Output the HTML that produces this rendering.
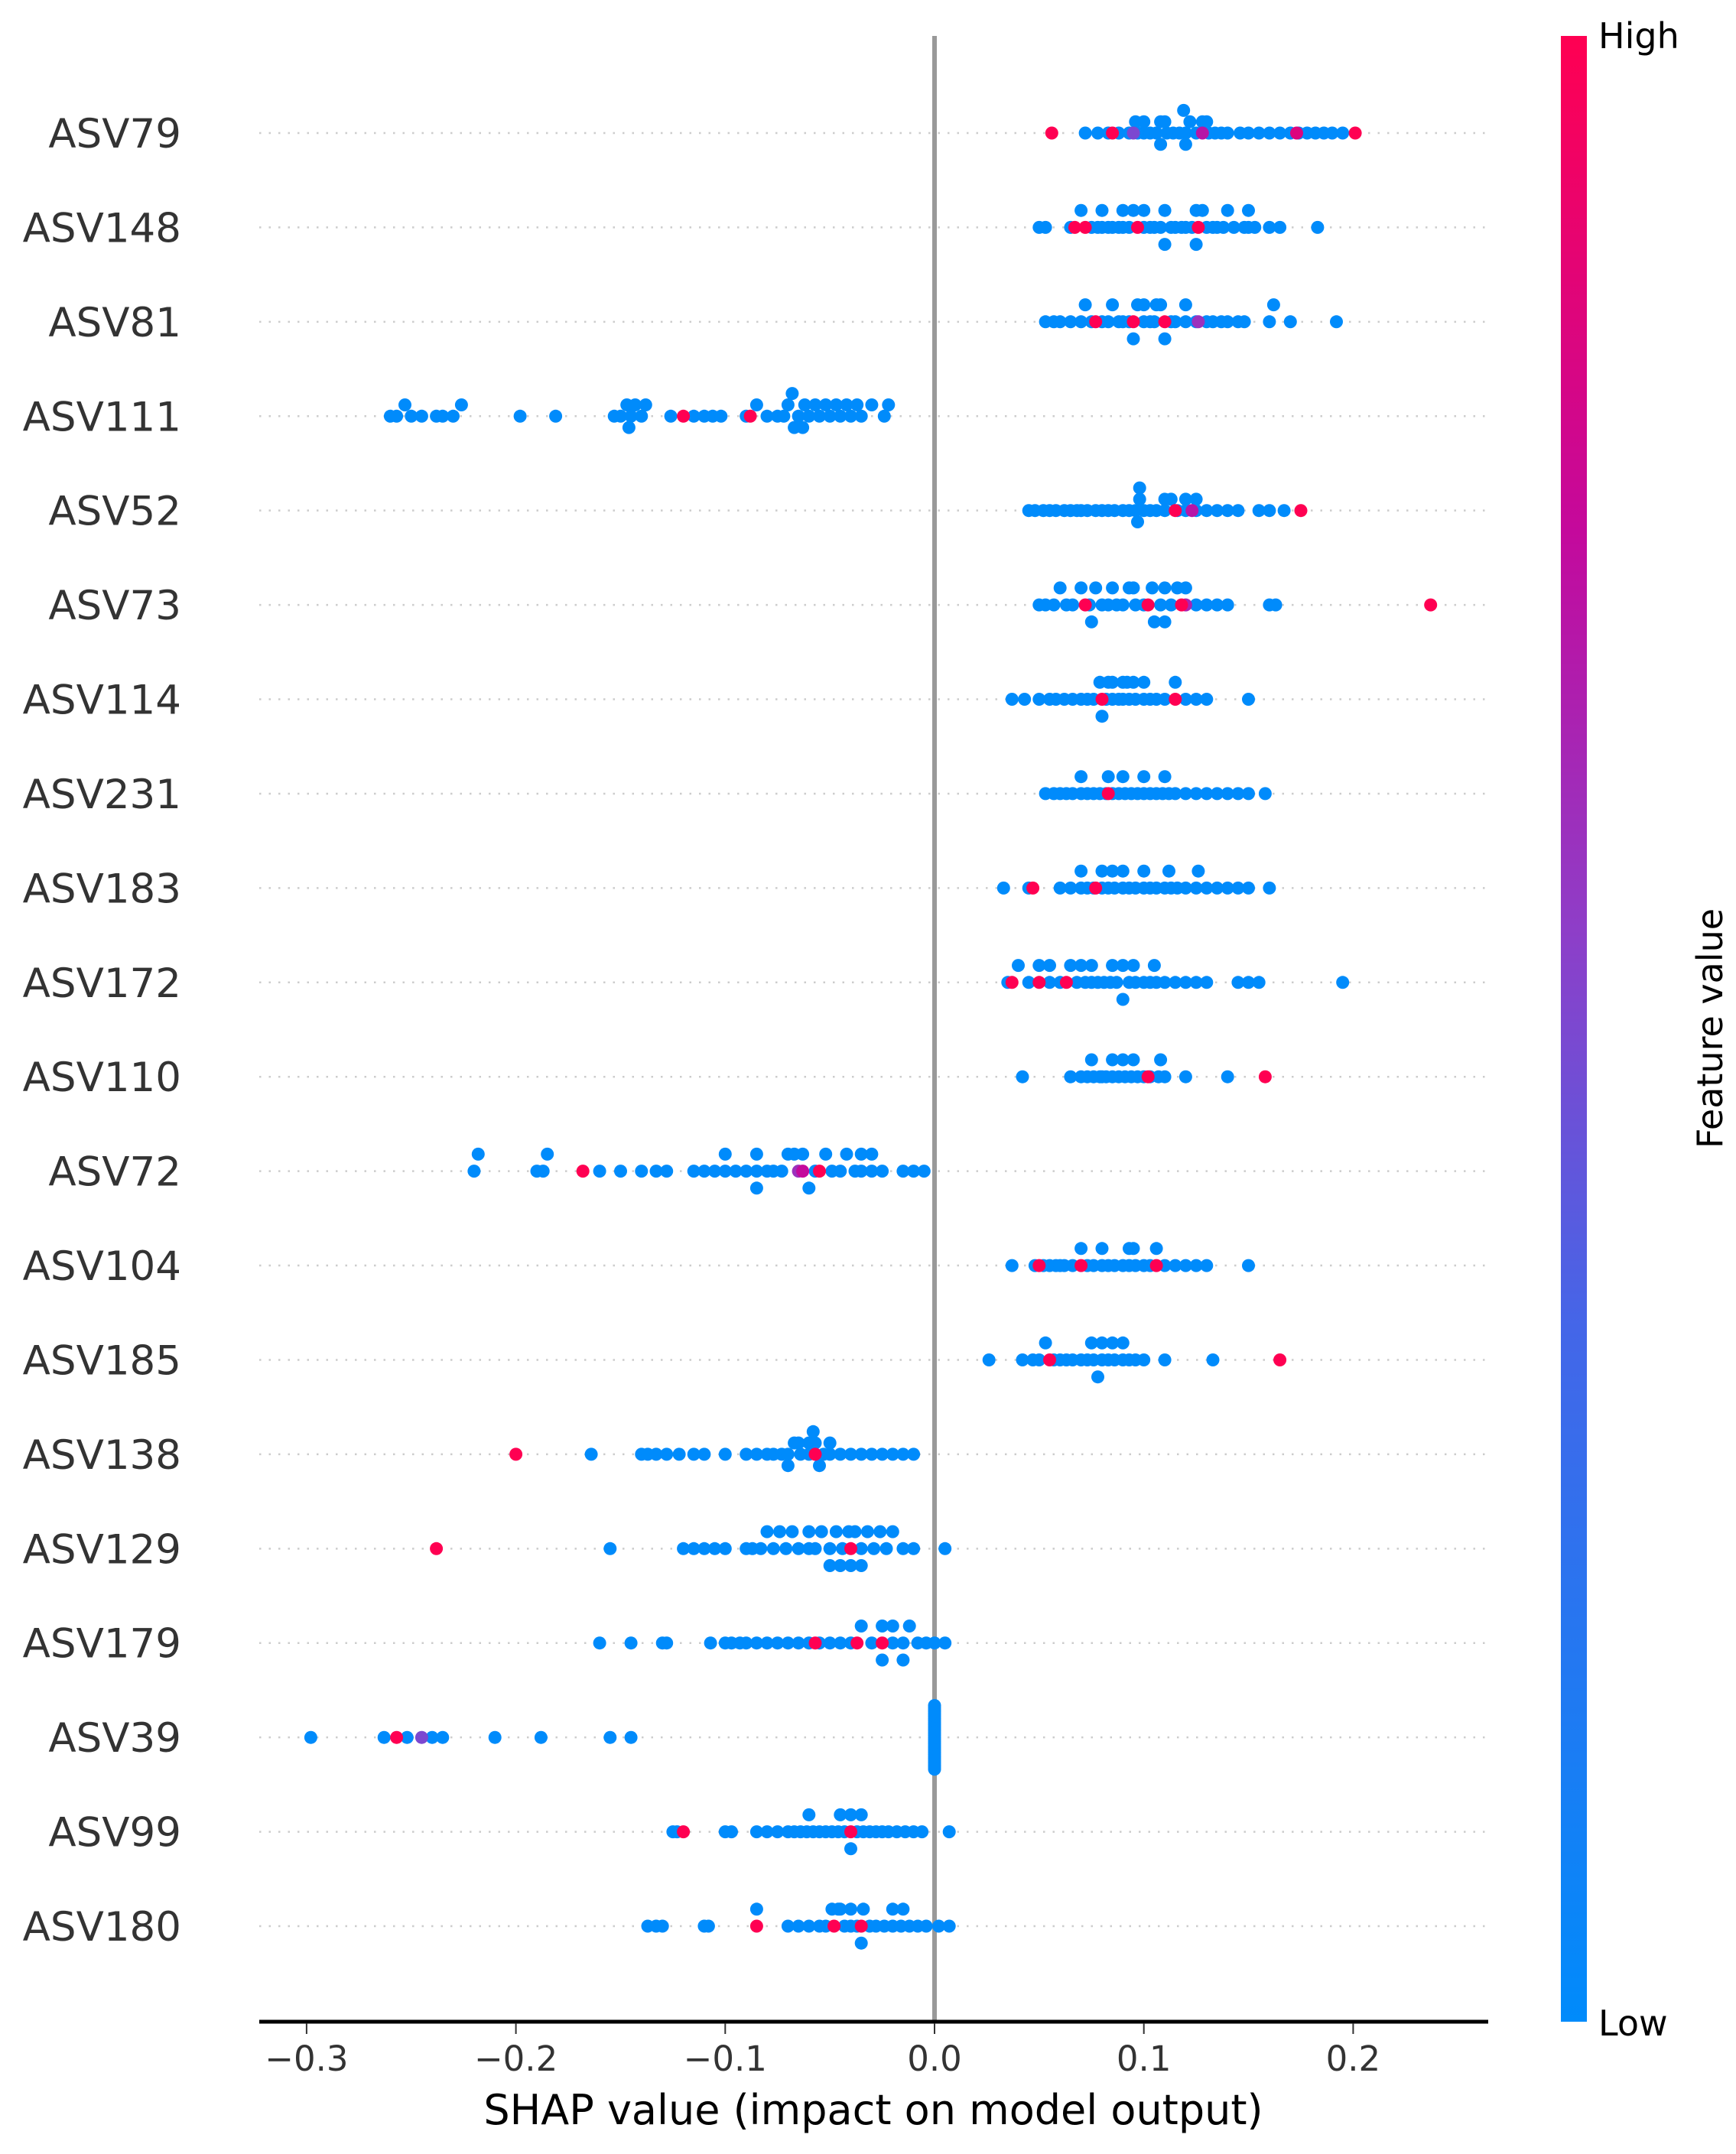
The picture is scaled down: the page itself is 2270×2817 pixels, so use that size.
<!DOCTYPE html>
<html><head><meta charset="utf-8"><style>
html,body{margin:0;padding:0;background:#fff;}
svg{display:block;font-family:"DejaVu Sans","Liberation Sans",sans-serif;}
</style></head><body>
<svg id="chart" width="2270" height="2817" viewBox="0 0 2270 2817" xmlns="http://www.w3.org/2000/svg">
<defs><linearGradient id="cbgrad" x1="0" y1="1" x2="0" y2="0">
<stop offset="0" stop-color="#008bfb"/><stop offset="0.35" stop-color="#4466e8"/><stop offset="0.55" stop-color="#8e3ec8"/><stop offset="0.75" stop-color="#c4099c"/><stop offset="1" stop-color="#ff0052"/></linearGradient></defs>
<g id="grid"></g>
<line x1="1222" y1="47" x2="1222" y2="2644" stroke="#999" stroke-width="6"/>
<g id="dots"></g>
<g id="ylabels"></g>
<line x1="339" y1="2644" x2="1946" y2="2644" stroke="#000" stroke-width="5"/>
<g id="xticks"></g>
<text x="1142" y="2778" font-size="54" text-anchor="middle" fill="#000">SHAP value (impact on model output)</text>
<rect x="2041" y="47" width="34" height="2597" fill="url(#cbgrad)"/>
<text x="2090" y="63" font-size="46" fill="#000">High</text>
<text x="2090" y="2662" font-size="46" fill="#000">Low</text>
<text x="0" y="0" font-size="46" fill="#000" text-anchor="middle" transform="translate(2252,1345) rotate(-90)">Feature value</text>
</svg>
<script>
const features = ["ASV79","ASV148","ASV81","ASV111","ASV52","ASV73","ASV114","ASV231","ASV183","ASV172","ASV110","ASV72","ASV104","ASV185","ASV138","ASV129","ASV179","ASV39","ASV99","ASV180"];
const shapValues = [
 [0.056,0.085,0.201,0.173,0.128,0.095,0.072,0.078,0.083,0.088,0.093,0.096,0.1,0.103,0.106,0.108,0.111,0.114,0.117,0.12,0.122,0.125,0.128,0.131,0.134,0.137,0.14,0.146,0.15,0.155,0.16,0.165,0.17,0.174,0.178,0.182,0.186,0.19,0.195,0.1,0.11,0.12,0.13,0.097,0.108,0.119],
 [0.067,0.072,0.097,0.126,0.05,0.053,0.065,0.07,0.075,0.078,0.08,0.083,0.085,0.088,0.09,0.093,0.095,0.1,0.103,0.105,0.108,0.11,0.113,0.115,0.118,0.12,0.123,0.125,0.128,0.13,0.133,0.135,0.138,0.14,0.143,0.148,0.15,0.153,0.16,0.165,0.183,0.08,0.1,0.125,0.15,0.09,0.11],
 [0.095,0.077,0.11,0.126,0.053,0.057,0.06,0.065,0.07,0.072,0.075,0.08,0.083,0.085,0.088,0.09,0.093,0.097,0.1,0.103,0.105,0.108,0.11,0.113,0.115,0.12,0.125,0.13,0.133,0.137,0.14,0.145,0.148,0.16,0.162,0.17,0.192,0.1,0.12,0.095,0.106],
 [-0.12,-0.088,-0.26,-0.257,-0.253,-0.25,-0.245,-0.238,-0.235,-0.23,-0.226,-0.198,-0.181,-0.153,-0.15,-0.147,-0.145,-0.143,-0.14,-0.138,-0.126,-0.115,-0.11,-0.106,-0.102,-0.09,-0.085,-0.08,-0.075,-0.072,-0.07,-0.067,-0.065,-0.062,-0.06,-0.057,-0.055,-0.052,-0.05,-0.047,-0.045,-0.042,-0.04,-0.037,-0.035,-0.03,-0.024,-0.022,-0.068,-0.063,-0.146],
 [0.175,0.123,0.115,0.045,0.048,0.052,0.055,0.058,0.062,0.065,0.068,0.07,0.073,0.077,0.08,0.083,0.086,0.09,0.093,0.096,0.098,0.1,0.103,0.106,0.11,0.113,0.116,0.12,0.125,0.13,0.135,0.14,0.145,0.155,0.16,0.167,0.097,0.11,0.125,0.098,0.12],
 [0.237,0.102,0.072,0.118,0.12,0.05,0.053,0.057,0.06,0.063,0.066,0.07,0.074,0.077,0.08,0.083,0.087,0.09,0.093,0.096,0.1,0.104,0.108,0.11,0.113,0.116,0.12,0.125,0.13,0.135,0.14,0.16,0.163,0.085,0.11,0.075,0.095,0.105],
 [0.115,0.08,0.037,0.043,0.05,0.055,0.058,0.062,0.066,0.07,0.073,0.076,0.079,0.082,0.085,0.088,0.09,0.093,0.096,0.1,0.103,0.106,0.11,0.115,0.12,0.125,0.13,0.15,0.085,0.095,0.08,0.09,0.1,0.083,0.092],
 [0.083,0.053,0.057,0.06,0.063,0.066,0.07,0.073,0.076,0.079,0.082,0.085,0.088,0.091,0.094,0.097,0.1,0.103,0.106,0.109,0.112,0.115,0.12,0.125,0.13,0.135,0.14,0.145,0.15,0.158,0.083,0.07,0.09,0.1,0.11],
 [0.047,0.077,0.033,0.045,0.06,0.065,0.07,0.073,0.076,0.08,0.083,0.086,0.09,0.093,0.096,0.1,0.103,0.106,0.11,0.113,0.116,0.12,0.125,0.13,0.135,0.14,0.145,0.15,0.16,0.08,0.09,0.1,0.112,0.126,0.07,0.085],
 [0.037,0.063,0.05,0.035,0.04,0.045,0.05,0.055,0.06,0.065,0.068,0.072,0.075,0.078,0.081,0.084,0.087,0.09,0.093,0.096,0.1,0.103,0.106,0.11,0.115,0.12,0.125,0.13,0.145,0.15,0.155,0.195,0.07,0.085,0.095,0.105,0.09,0.055,0.075],
 [0.102,0.158,0.042,0.065,0.07,0.073,0.076,0.079,0.082,0.085,0.088,0.091,0.094,0.097,0.1,0.103,0.107,0.11,0.12,0.14,0.075,0.085,0.095,0.108,0.08,0.09],
 [-0.168,-0.055,-0.063,-0.065,-0.22,-0.218,-0.19,-0.187,-0.185,-0.16,-0.15,-0.14,-0.133,-0.128,-0.115,-0.11,-0.105,-0.1,-0.095,-0.09,-0.085,-0.08,-0.077,-0.073,-0.07,-0.067,-0.063,-0.06,-0.057,-0.052,-0.049,-0.045,-0.042,-0.038,-0.035,-0.03,-0.025,-0.015,-0.01,-0.005,-0.1,-0.085,-0.035,-0.03,-0.085],
 [0.05,0.07,0.106,0.037,0.048,0.052,0.055,0.058,0.062,0.066,0.07,0.073,0.076,0.08,0.083,0.086,0.09,0.093,0.096,0.1,0.103,0.106,0.11,0.115,0.12,0.125,0.13,0.15,0.06,0.08,0.095,0.093],
 [0.165,0.055,0.026,0.042,0.047,0.05,0.053,0.057,0.06,0.063,0.066,0.07,0.073,0.076,0.08,0.083,0.086,0.09,0.093,0.096,0.1,0.11,0.133,0.08,0.075,0.085,0.09,0.078],
 [-0.2,-0.057,-0.164,-0.14,-0.137,-0.133,-0.128,-0.122,-0.115,-0.11,-0.1,-0.09,-0.085,-0.08,-0.077,-0.073,-0.07,-0.067,-0.064,-0.06,-0.057,-0.053,-0.05,-0.045,-0.04,-0.035,-0.03,-0.025,-0.02,-0.015,-0.01,-0.06,-0.065,-0.055,-0.05,-0.07,-0.058],
 [-0.238,-0.04,-0.155,-0.12,-0.115,-0.11,-0.105,-0.1,-0.09,-0.087,-0.083,-0.08,-0.077,-0.074,-0.071,-0.068,-0.065,-0.06,-0.057,-0.054,-0.05,-0.047,-0.044,-0.041,-0.038,-0.035,-0.032,-0.029,-0.026,-0.023,-0.02,-0.015,-0.01,0.005,-0.05,-0.04,-0.06,-0.035,-0.045],
 [-0.057,-0.037,-0.025,-0.16,-0.145,-0.13,-0.128,-0.107,-0.1,-0.097,-0.093,-0.09,-0.085,-0.08,-0.075,-0.07,-0.065,-0.06,-0.055,-0.05,-0.045,-0.04,-0.035,-0.03,-0.025,-0.02,-0.015,-0.012,-0.008,-0.004,0.0,0.005,-0.02,-0.025,-0.015],
 [-0.298,-0.257,-0.245,-0.263,-0.252,-0.24,-0.235,-0.21,-0.188,-0.155,-0.145,0,0,0,0,0,0,0,0,0,0,0,0,0,0,0,0,0,0,0,0,0,0,0,0,0,0,0,0,0,0,0],
 [-0.12,-0.04,-0.125,-0.123,-0.1,-0.097,-0.085,-0.08,-0.075,-0.07,-0.067,-0.064,-0.061,-0.058,-0.055,-0.052,-0.049,-0.046,-0.043,-0.04,-0.037,-0.034,-0.031,-0.028,-0.025,-0.022,-0.018,-0.014,-0.01,-0.006,0.007,-0.04,-0.045,-0.06,-0.035],
 [-0.085,-0.048,-0.035,-0.137,-0.133,-0.13,-0.11,-0.108,-0.085,-0.07,-0.065,-0.06,-0.055,-0.052,-0.049,-0.046,-0.043,-0.04,-0.037,-0.034,-0.031,-0.028,-0.024,-0.02,-0.016,-0.012,-0.008,-0.004,0.002,0.007,-0.04,-0.035,-0.045,-0.02,-0.015]
];
const featureValues = [
 [1,1,1,0.85,0.7,0.5],
 [1,1,1,1],
 [1,1,1,0.6],
 [1,1],
 [1,0.7,1],
 [1,1,1,1,0.65],
 [1,1],
 [1],
 [1,1],
 [1,1,1],
 [1,1],
 [1,1,0.75,0.6],
 [1,1,1],
 [1,1],
 [1,1],
 [1,1],
 [1,1,1],
 [0,1,0.5],
 [1,1],
 [1,1,1]
];
const xTicks = [-0.3,-0.2,-0.1,0.0,0.1,0.2];
const xTickLabels = ["\u22120.3","\u22120.2","\u22120.1","0.0","0.1","0.2"];
</script>
<script>
const NS="http://www.w3.org/2000/svg";
const X0=1222, XS=2737;
function xScale(v){return X0+v*XS;}
const rowTop=174, rowStep=(2519-174)/19;
function yScale(i){return rowTop+i*rowStep;}
function colorFor(t){
  const stops=[[0,[0,139,251]],[0.35,[68,102,232]],[0.55,[142,62,200]],[0.75,[196,9,156]],[1,[255,0,82]]];
  for(let k=1;k<stops.length;k++){ if(t<=stops[k][0]){const a=stops[k-1],b=stops[k];const f=(t-a[0])/(b[0]-a[0]);
    const c=a[1].map((v,j)=>Math.round(v+(b[1][j]-v)*f));return `rgb(${c[0]},${c[1]},${c[2]})`;}}
  return "rgb(255,0,82)";
}
const grid=document.getElementById('grid'), dots=document.getElementById('dots'), ylab=document.getElementById('ylabels'), xt=document.getElementById('xticks');
features.forEach((name,i)=>{
  const y=yScale(i);
  const gl=document.createElementNS(NS,'line');
  gl.setAttribute('x1',339);gl.setAttribute('x2',1946);gl.setAttribute('y1',y);gl.setAttribute('y2',y);
  gl.setAttribute('stroke','#ccc');gl.setAttribute('stroke-width','2.5');gl.setAttribute('stroke-dasharray','2.5 10');
  
  
  grid.appendChild(gl);
  const t=document.createElementNS(NS,'text');
  t.setAttribute('x',237);t.setAttribute('y',y+19);t.setAttribute('text-anchor','end');t.setAttribute('font-size','53');t.setAttribute('fill','#333');
  t.textContent=name;
  
  
  ylab.appendChild(t);
  const vals=shapValues[i];
  const fv=vals.map((v,k)=>k<featureValues[i].length?featureValues[i][k]:0);
  const mn=Math.min(...vals), mx=Math.max(...vals);
  const nb=45;
  const q=vals.map(v=>Math.round(nb*(v-mn)/(mx-mn+1e-8)));
  const order=vals.map((v,k)=>k).sort((a,b)=>q[a]-q[b]||a-b);
  const ys=new Array(vals.length).fill(0);
  let layer=0,last=-1;
  order.forEach(k=>{ if(q[k]!==last) layer=0; ys[k]=Math.ceil(layer/2)*((layer%2)*2-1); layer++; last=q[k];});
  const maxY=Math.max(...ys.map(v=>v+1));
  const sc=0.9*(0.4/maxY)*rowStep;
  const draw=vals.map((v,k)=>k).sort((a,b)=>fv[a]-fv[b]);
  draw.forEach(k=>{
    const c=document.createElementNS(NS,'circle');
    c.setAttribute('cx',xScale(vals[k]).toFixed(1));
    c.setAttribute('cy',(y-ys[k]*sc).toFixed(1));
    c.setAttribute('r','8.5');
    c.setAttribute('fill',colorFor(fv[k]));
    
    
    dots.appendChild(c);
  });
});
xTicks.forEach((v,k)=>{
  const x=xScale(v);
  const l=document.createElementNS(NS,'line');
  l.setAttribute('x1',x);l.setAttribute('x2',x);l.setAttribute('y1',2646);l.setAttribute('y2',2660);
  l.setAttribute('stroke','#333');l.setAttribute('stroke-width','2');
  
  
  xt.appendChild(l);
  const t=document.createElementNS(NS,'text');
  t.setAttribute('x',x);t.setAttribute('y',2708);t.setAttribute('text-anchor','middle');t.setAttribute('font-size','45');t.setAttribute('fill','#333');
  t.textContent=xTickLabels[k];
  
  
  xt.appendChild(t);
});
</script>
</body></html>
